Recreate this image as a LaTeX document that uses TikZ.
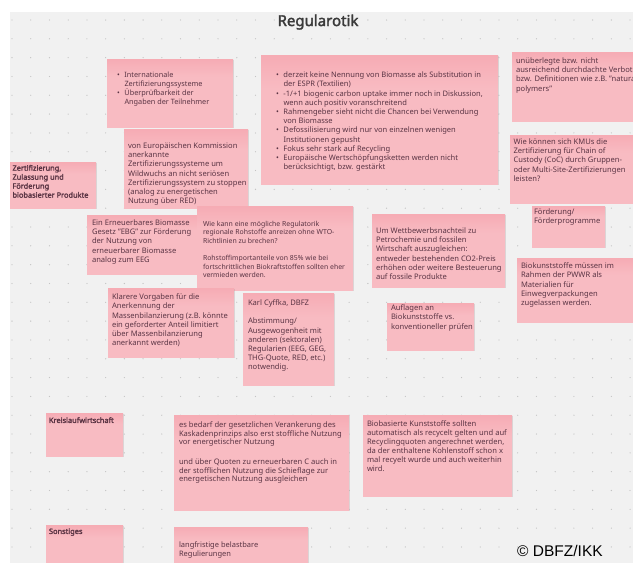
\documentclass[tikz,border=0pt]{standalone}
\usepackage{fontspec}
\setmainfont{Noto Sans}[AutoFakeBold=2.2]
\newfontfamily\arialfont{Liberation Sans}
\usetikzlibrary{shadows}
\definecolor{bgc}{HTML}{F1F1F1}
\definecolor{dotc}{HTML}{C4C4C4}
\definecolor{nt}{HTML}{F28E9A}
\definecolor{nb}{HTML}{F8BBC2}
\definecolor{txtc}{HTML}{5A3444}
\definecolor{titc}{HTML}{3A3A3A}
\pgfdeclareverticalshading{notesh}{100bp}{color(0bp)=(nb); color(62bp)=(nb); color(100bp)=(nt)}
\newcommand\bul{\makebox[7.5pt][l]{\textbullet}}
\newcommand\ind{\hspace*{7.5pt}}
\newcommand\nbox[5]{\node[note, minimum width={(#4-#2)*1pt}, minimum height={(#5-#3)*1pt}] (#1) at (#2,#3) {};}
\tikzset{
  note/.style={shading=notesh, anchor=north west, inner sep=0pt, outer sep=0pt,
    drop shadow={opacity=0.22, shadow xshift=0.6pt, shadow yshift=-1.2pt}},
  txt/.style={anchor=north west, inner sep=0pt, outer sep=0pt, align=left, text=txtc,
    font=\fontsize{7.6}{9.1}\selectfont, execute at begin node={\rule{0pt}{0.8em}}},
  btxt/.style={txt, font=\fontsize{7.4}{9}\selectfont\bfseries},
}
\begin{document}
\begin{tikzpicture}[x=1pt,y=-1pt]
\useasboundingbox (0,0) rectangle (633,563);
\fill[white] (0,0) rectangle (633,563);
\fill[bgc] (10,12) rectangle (633,563);
\foreach \i in {0,...,33}{
  \foreach \j in {0,...,29}{
    \fill[dotc] ({12+\i*18.73},{20+\j*18.82}) circle (0.65pt);
  }
}
\node[anchor=base, font=\fontsize{15}{18}\selectfont\bfseries, text=titc] (title) at (318,26) {Regularotik};

% boxes
\nbox{bE}{10}{162}{96}{208}
\nbox{bA}{107}{59}{233}{127}
\nbox{bB}{261}{55}{498}{184}
\nbox{bC}{512}{52}{645}{121}
\nbox{bD}{124}{129}{248}{208}
\nbox{bF}{510}{135}{645}{203}
\nbox{bG}{532}{206}{605}{247}
\nbox{bH}{87}{215}{197}{274}
\nbox{bI}{197}{206}{353}{290}
\nbox{bJ}{372}{214}{505}{287}
\nbox{bK}{517}{258}{645}{322}
\nbox{bL}{108}{288}{234}{357}
\nbox{bM}{243}{293}{334}{385}
\nbox{bN}{387}{303}{474}{350}
\nbox{bO}{46}{413}{123}{456}
\nbox{bP}{174}{415}{349}{510}
\nbox{bQ}{363}{415}{512}{496}
\nbox{bR}{46}{525}{123}{575}
\nbox{bS}{174}{527}{308}{575}

% texts
\node[txt, font=\fontsize{7.3}{9.1}\selectfont] (tA) at (117,72) {\bul Internationale\\\ind Zertifizierungssysteme\\\bul Überprüfbarkeit der\\\ind Angaben der Teilnehmer};
\node[txt, font=\fontsize{7.55}{9.2}\selectfont] (tB) at (276,72) {\bul derzeit keine Nennung von Biomasse als Substitution in\\\ind der ESPR (Textilien)\\\bul -1/+1 biogenic carbon uptake immer noch in Diskussion,\\\ind wenn auch positiv voranschreitend\\\bul Rahmengeber sieht nicht die Chancen bei Verwendung\\\ind von Biomasse\\\bul Defossilisierung wird nur von einzelnen wenigen\\\ind Institutionen gepusht\\\bul Fokus sehr stark auf Recycling\\\bul Europäische Wertschöpfungsketten werden nicht\\\ind berücksichtigt, bzw. gestärkt};
\node[txt] (tC) at (516,58) {unüberlegte bzw. nicht\\ausreichend durchdachte Verboten\\bzw. Definitionen wie z.B. "natural\\polymers"};
\node[txt] (tD) at (128,143) {von Europäischen Kommission\\anerkannte\\Zertifizierungssysteme um\\Wildwuchs an nicht seriösen\\Zertifizierungssystem zu stoppen\\(analog zu energetischen\\Nutzung über RED)};
\node[btxt] (tE) at (12.5,165) {Zertifizierung,\\Zulassung und\\Förderung\\biobasierter Produkte};
\node[txt] (tF) at (513.5,139) {Wie können sich KMUs die\\Zertifizierung für Chain of\\Custody (CoC) durch Gruppen-\\oder Multi-Site-Zertifizierungen\\leisten?};
\node[txt] (tG) at (534,209) {Förderung/\\Förderprogramme};
\node[txt] (tH) at (92,220) {Ein Erneuerbares Biomasse\\Gesetz "EBG" zur Förderung\\der Nutzung von\\erneuerbarer Biomasse\\analog zum EEG};
\node[txt, font=\fontsize{6.9}{8.5}\selectfont] (tI) at (203,221) {Wie kann eine mögliche Regulatorik\\regionale Rohstoffe anreizen ohne WTO-\\Richtlinien zu brechen?\\[8.8pt]Rohstoffimportanteile von 85\% wie bei\\fortschrittlichen Biokraftstoffen sollten eher\\vermieden werden.};
\node[txt] (tJ) at (376,228) {Um Wettbewerbsnachteil zu\\Petrochemie und fossilen\\Wirtschaft auszugleichen:\\entweder bestehenden CO2-Preis\\erhöhen oder weitere Besteuerung\\auf fossile Produkte};
\node[txt] (tK) at (521,263) {Biokunststoffe müssen im\\Rahmen der PWWR als\\Materialien für\\Einwegverpackungen\\zugelassen werden.};
\node[txt] (tL) at (112,294) {Klarere Vorgaben für die\\Anerkennung der\\Massenbilanzierung (z.B. könnte\\ein geforderter Anteil limitiert\\über Massenbilanzierung\\anerkannt werden)};
\node[txt] (tM) at (248,300) {Karl Cyffka, DBFZ\\[9pt]Abstimmung/\\Ausgewogenheit mit\\anderen (sektoralen)\\Regularien (EEG, GEG,\\THG-Quote, RED, etc.)\\notwendig.};
\node[txt] (tN) at (391,305) {Auflagen an\\Biokunststoffe vs.\\konventioneller prüfen};
\node[btxt] (tO) at (49,417) {Kreislaufwirtschaft};
\node[txt, font=\fontsize{7.6}{8.4}\selectfont] (tP) at (179,422) {es bedarf der gesetzlichen Verankerung des\\Kaskadenprinzips also erst stoffliche Nutzung\\vor energetischer Nutzung\\[11.6pt]und über Quoten zu erneuerbaren C auch in\\der stofflichen Nutzung die Schieflage zur\\energetischen Nutzung ausgleichen};
\node[txt, font=\fontsize{7.6}{9}\selectfont] (tQ) at (367,421) {Biobasierte Kunststoffe sollten\\automatisch als recycelt gelten und auf\\Recyclingquoten angerechnet werden,\\da der enthaltene Kohlenstoff schon x\\mal recyelt wurde und auch weiterhin\\wird.};
\node[btxt] (tR) at (49,528) {Sonstiges};
\node[txt, font=\fontsize{7.5}{9.1}\selectfont] (tS) at (179,542) {langfristige belastbare\\Regulierungen};

\node[anchor=base west, inner sep=0pt, font=\arialfont\fontsize{15.5}{18}\selectfont, text=black] (copy) at (517,556) {© DBFZ/IKK};
\end{tikzpicture}
\end{document}
